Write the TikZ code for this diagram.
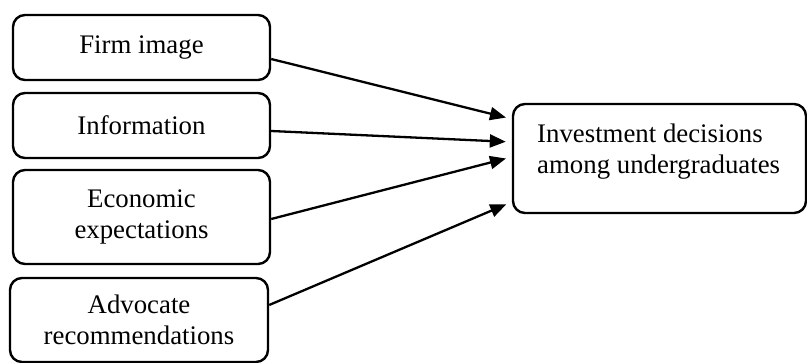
\documentclass[tikz,border=0pt]{standalone}
\usepackage{fontspec}
\setmainfont{Liberation Serif}
\usetikzlibrary{arrows.meta}
\begin{document}
\begin{tikzpicture}[x=1pt,y=-1pt,
    font=\fontsize{26.8}{31}\selectfont,
    factor/.style={draw,line width=2.4pt,rounded corners=12pt,minimum width=257pt,align=center,inner sep=0pt},
    link/.style={line width=2.3pt,-{Triangle[length=16pt,width=13pt]},shorten >=6pt}]
  \useasboundingbox (0,0) rectangle (807,363);

  \node[factor,minimum height=65pt] (fi) at (141.5,47.5) {Firm image};
  \node[factor,minimum height=65pt] (inf) at (141.5,125.5) {Information};
  \node[factor,minimum height=94pt] (eco) at (141.5,217) {Economic\\expectations};
  \node[factor,minimum height=84pt,minimum width=258pt] (adv) at (139,320) {Advocate\\recommendations};

  \node[factor,minimum height=109pt,minimum width=293pt] (dec) at (659.5,158.5) {};
  \node[anchor=west,align=left,inner sep=0pt] (dectext) at (537,152) {Investment decisions\\among undergraduates};

  \draw[link] ([yshift=-11.5pt]fi.east) -- ([yshift=39.5pt]dec.west);
  \draw[link] ([yshift=-5.5pt]inf.east) -- ([yshift=16.5pt]dec.west);
  \draw[link] ([yshift=-2pt]eco.east) -- ([yshift=1.5pt]dec.west);
  \draw[link] ([yshift=15pt]adv.east) -- ([yshift=-43.5pt]dec.west);
\end{tikzpicture}
\end{document}
